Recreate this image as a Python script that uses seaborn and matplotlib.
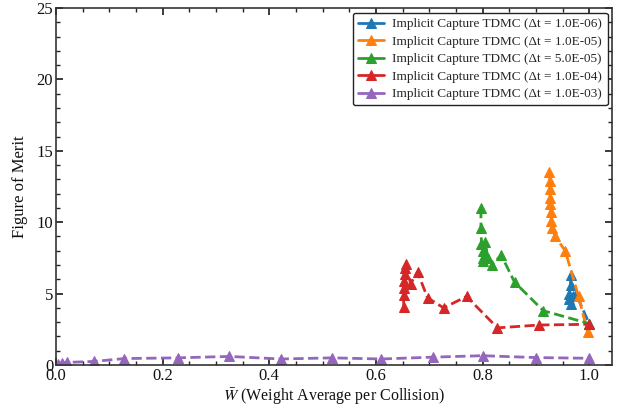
import matplotlib
matplotlib.use("Agg")
import matplotlib.pyplot as plt
import seaborn as sns
import pandas as pd
from matplotlib.ticker import MultipleLocator

sns.set_theme(style="ticks")
plt.rcParams['font.family'] = ['Liberation Serif', 'DejaVu Serif']
plt.rcParams['mathtext.fontset'] = 'stix'

labels = [
    "Implicit Capture TDMC (Δt = 1.0E-06)",
    "Implicit Capture TDMC (Δt = 1.0E-05)",
    "Implicit Capture TDMC (Δt = 5.0E-05)",
    "Implicit Capture TDMC (Δt = 1.0E-04)",
    "Implicit Capture TDMC (Δt = 1.0E-03)",
]

x_1e6 = [0.965, 0.965, 0.963, 0.962, 0.965, 0.970, 0.975, 1.000]
y_1e6 = [6.3, 5.6, 5.0, 4.6, 4.3, 4.8, 5.0, 2.9]

x_1e5 = [0.925, 0.926, 0.926, 0.927, 0.927, 0.928, 0.929, 0.930, 0.936, 0.955, 0.980, 0.997]
y_1e5 = [13.5, 12.9, 12.3, 11.7, 11.3, 10.7, 10.1, 9.6, 9.0, 8.0, 4.8, 2.3]

x_5e5 = [0.797, 0.797, 0.798, 0.800, 0.800, 0.800, 0.805, 0.810, 0.818, 0.835, 0.860, 0.914, 1.000]
y_5e5 = [11.0, 9.6, 8.5, 8.0, 7.5, 7.3, 8.6, 7.5, 7.0, 7.7, 5.8, 3.8, 2.9]

x_1e4 = [0.652, 0.652, 0.653, 0.653, 0.654, 0.655, 0.656, 0.665, 0.678, 0.697, 0.727, 0.770, 0.828, 0.906, 1.000]
y_1e4 = [4.05, 4.9, 5.4, 5.9, 6.4, 6.8, 7.1, 5.7, 6.5, 4.7, 4.0, 4.8, 2.6, 2.8, 2.85]

x_1e3 = [0.004, 0.012, 0.020, 0.072, 0.128, 0.228, 0.325, 0.422, 0.518, 0.610, 0.707, 0.800, 0.900, 1.000]
y_1e3 = [0.10, 0.15, 0.18, 0.25, 0.45, 0.50, 0.60, 0.42, 0.50, 0.42, 0.55, 0.65, 0.52, 0.47]

series = [(x_1e6, y_1e6), (x_1e5, y_1e5), (x_5e5, y_5e5), (x_1e4, y_1e4), (x_1e3, y_1e3)]
colors = sns.color_palette("tab10", 5)

fig = plt.figure(figsize=(6.2, 4.09), dpi=100)
ax = fig.add_axes([0.0903, 0.1076, 0.897, 0.8728])

for (xs, ys), lab, c in zip(series, labels, colors):
    df = pd.DataFrame({"x": xs, "y": ys})
    sns.lineplot(data=df, x="x", y="y", ax=ax, sort=False, color=c, marker="^",
                 markersize=7, markeredgecolor=c, linestyle="--", linewidth=2,
                 label=lab, estimator=None)

ax.set_xlim(0, 1.043)
ax.set_ylim(0, 25)
ax.xaxis.set_major_locator(MultipleLocator(0.2))
ax.xaxis.set_minor_locator(MultipleLocator(0.05))
ax.yaxis.set_major_locator(MultipleLocator(5))
ax.yaxis.set_minor_locator(MultipleLocator(1))
ax.tick_params(which="both", direction="in", top=True, right=True, labelsize=12,
               color="#222222", labelcolor="#111111")
ax.tick_params(which="major", length=5, pad=2)
ax.tick_params(which="minor", length=3)
for s in ax.spines.values():
    s.set_color("#333333")
    s.set_linewidth(1.2)
ax.set_xlabel(r"$\bar{W}$ (Weight Average per Collision)", fontsize=11.5, color="#111111", labelpad=2)
ax.set_ylabel("Figure of Merit", fontsize=12, color="#111111", labelpad=6)
ax.xaxis.set_major_formatter(matplotlib.ticker.FormatStrFormatter('%.1f'))

leg = ax.legend(loc="upper right", fontsize=9.5, frameon=True, fancybox=True,
                handlelength=2.0, borderpad=0.4, labelspacing=0.4,
                borderaxespad=0.35, handletextpad=0.6)
leg.get_frame().set_edgecolor("#222222")
leg.get_frame().set_linewidth(1.0)
leg.get_frame().set_alpha(1.0)
for h in leg.get_lines():
    h.set_linestyle("-")

fig.savefig("out.png", dpi=100)
